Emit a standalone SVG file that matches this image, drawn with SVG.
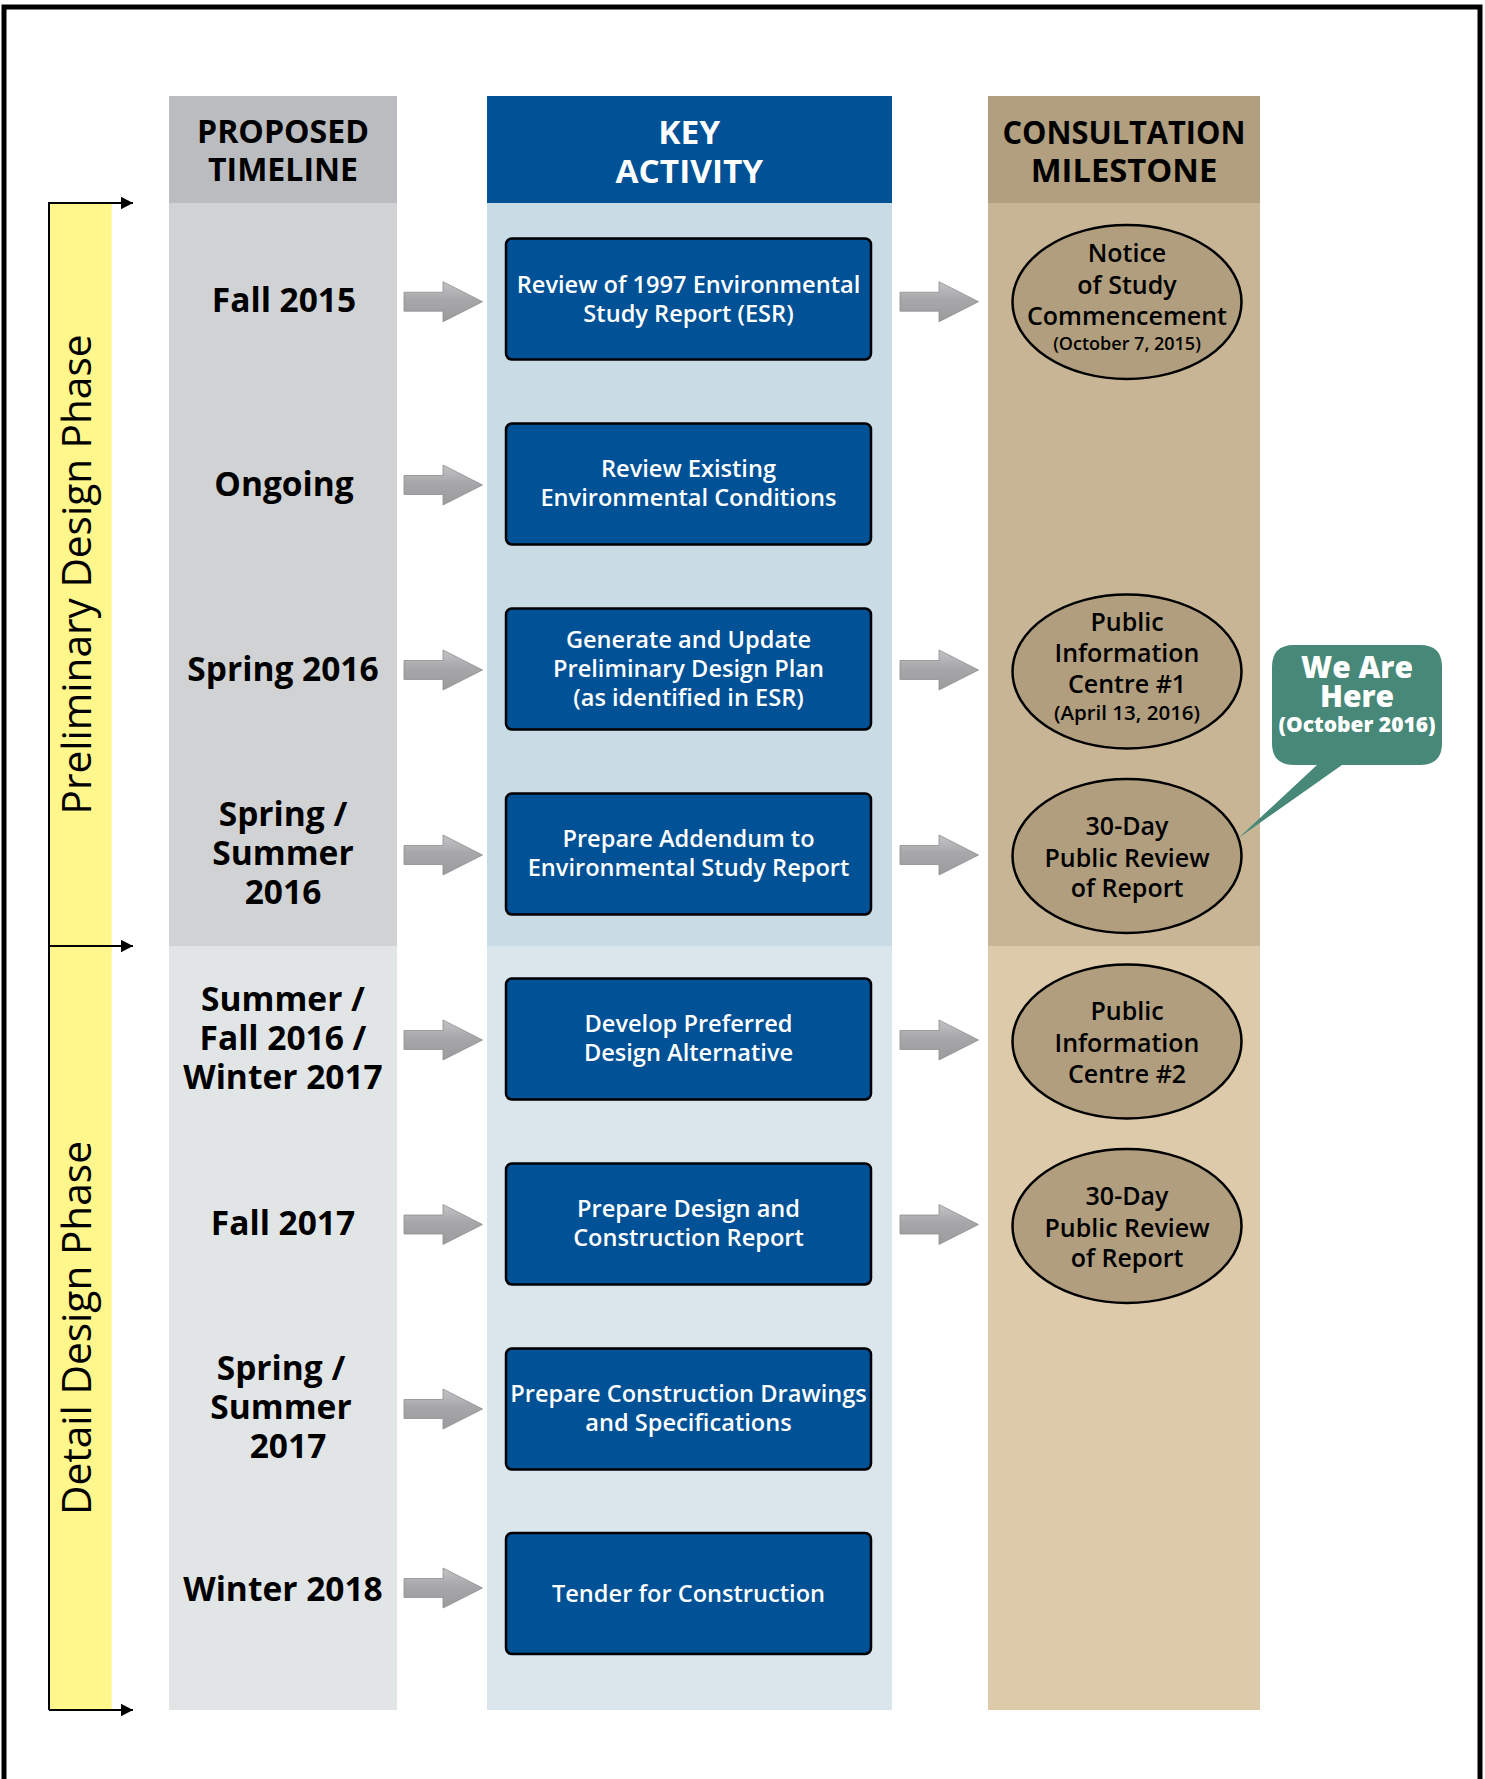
<svg xmlns="http://www.w3.org/2000/svg" width="1485" height="1779" viewBox="0 0 1485 1779">
<defs>
<style>
text{font-family:"Open Sans","Noto Sans","Liberation Sans",sans-serif}
.hdr{font-weight:700;font-size:32px;text-anchor:middle}
.tl{font-weight:700;font-size:33.5px;text-anchor:middle;fill:#000}
.act{font-weight:600;font-size:23.6px;fill:#fff;text-anchor:middle}
.ms{font-weight:600;font-size:25px;fill:#000;text-anchor:middle}
.box{fill:#005195;stroke:#000;stroke-width:2.5}
.ell{fill:#B09E7E;stroke:#000;stroke-width:2.5}
.garr{fill:url(#gg);stroke:#8e8e90;stroke-width:0.8}
.phase{font-weight:400;font-size:40px;fill:#000;text-anchor:middle}
.pl{fill:none;stroke:#000;stroke-width:2}
.we{font-weight:800;fill:#fff;text-anchor:middle}
</style>
<linearGradient id="gg" x1="0" y1="0" x2="0" y2="1">
<stop offset="0" stop-color="#c4c4c6"/>
<stop offset="0.45" stop-color="#a7a7a9"/>
<stop offset="1" stop-color="#9b9b9d"/>
</linearGradient>
<marker id="ah" markerUnits="userSpaceOnUse" markerWidth="14" markerHeight="14" refX="12.5" refY="6.5" orient="auto">
<path d="M0,0 L12.5,6.5 L0,13 Z" fill="#000"/>
</marker>
<path id="garrow" class="garr" d="M0,-9.5 H39 V-20 L78.5,0 L39,20 V9.5 H0 Z"/>
</defs>

<rect x="0" y="0" width="1485" height="1779" fill="#fff"/>
<path d="M4,1779 V7 H1480 V1779" fill="none" stroke="#000" stroke-width="5"/>

<!-- columns -->
<g id="col-timeline">
<rect x="169" y="203" width="228" height="743" fill="#D1D2D4"/>
<rect x="169" y="946" width="228" height="764" fill="#E2E5E6"/>
<rect x="169" y="96" width="228" height="107" fill="#BBBCBF"/>
<text class="hdr" x="283" y="142.5" textLength="172" lengthAdjust="spacingAndGlyphs">PROPOSED</text>
<text class="hdr" x="283" y="181" textLength="150" lengthAdjust="spacingAndGlyphs">TIMELINE</text>
</g>
<g id="col-activity">
<rect x="487" y="203" width="405" height="743" fill="#C9DBE5"/>
<rect x="487" y="946" width="405" height="764" fill="#DAE6EC"/>
<rect x="487" y="96" width="405" height="107" fill="#005195"/>
<text class="hdr" x="689.3" y="144.3" fill="#fff" textLength="62" lengthAdjust="spacingAndGlyphs">KEY</text>
<text class="hdr" x="689.3" y="182.7" fill="#fff" textLength="147.6" lengthAdjust="spacingAndGlyphs">ACTIVITY</text>
</g>
<g id="col-milestone">
<rect x="988" y="203" width="272" height="743" fill="#C7B596"/>
<rect x="988" y="946" width="272" height="764" fill="#DDCAAA"/>
<rect x="988" y="96" width="272" height="107" fill="#B19F7F"/>
<text class="hdr" x="1124" y="144" textLength="243" lengthAdjust="spacingAndGlyphs">CONSULTATION</text>
<text class="hdr" x="1124" y="181.7" textLength="186.6" lengthAdjust="spacingAndGlyphs">MILESTONE</text>
</g>

<!-- phases -->
<g id="phase-preliminary">
<rect x="49" y="203" width="62.7" height="743" fill="#FFF68C"/>
<text class="phase" transform="translate(90.5,574.5) rotate(-90)" textLength="480" lengthAdjust="spacingAndGlyphs">Preliminary Design Phase</text>
</g>
<g id="phase-detail">
<rect x="49" y="946" width="62.7" height="764" fill="#FFF68C"/>
<text class="phase" transform="translate(90.5,1328) rotate(-90)" textLength="374" lengthAdjust="spacingAndGlyphs">Detail Design Phase</text>
</g>

<!-- timeline labels -->
<g id="t1"><text class="tl" x="284" y="312">Fall 2015</text></g>
<g id="t2"><text class="tl" x="284" y="496">Ongoing</text></g>
<g id="t3"><text class="tl" x="283" y="681">Spring 2016</text></g>
<g id="t4"><text class="tl" x="283" y="826">Spring /</text><text class="tl" x="283" y="865">Summer</text><text class="tl" x="283" y="904">2016</text></g>
<g id="t5"><text class="tl" x="283" y="1011">Summer /</text><text class="tl" x="283" y="1050">Fall 2016 /</text><text class="tl" x="283" y="1089">Winter 2017</text></g>
<g id="t6"><text class="tl" x="283" y="1235">Fall 2017</text></g>
<g id="t7"><text class="tl" x="281" y="1380">Spring /</text><text class="tl" x="281" y="1419">Summer</text><text class="tl" x="288" y="1458">2017</text></g>
<g id="t8"><text class="tl" x="283" y="1601">Winter 2018</text></g>

<!-- activities -->
<g id="a1"><rect class="box" x="506" y="238.5" width="365" height="121" rx="6"/>
<text class="act" x="688.5" y="292.5">Review of 1997 Environmental</text><text class="act" x="688.5" y="322">Study Report (ESR)</text></g>
<g id="a2"><rect class="box" x="506" y="423.5" width="365" height="121" rx="6"/>
<text class="act" x="688.5" y="477.3">Review Existing</text><text class="act" x="688.5" y="506.3">Environmental Conditions</text></g>
<g id="a3"><rect class="box" x="506" y="608.5" width="365" height="121" rx="6"/>
<text class="act" x="688.5" y="648">Generate and Update</text><text class="act" x="688.5" y="677">Preliminary Design Plan</text><text class="act" x="688.5" y="705.5">(as identified in ESR)</text></g>
<g id="a4"><rect class="box" x="506" y="793.5" width="365" height="121" rx="6"/>
<text class="act" x="688.5" y="847.3">Prepare Addendum to</text><text class="act" x="688.5" y="876">Environmental Study Report</text></g>
<g id="a5"><rect class="box" x="506" y="978.5" width="365" height="121" rx="6"/>
<text class="act" x="688.5" y="1032">Develop Preferred</text><text class="act" x="688.5" y="1061">Design Alternative</text></g>
<g id="a6"><rect class="box" x="506" y="1163.5" width="365" height="121" rx="6"/>
<text class="act" x="688.5" y="1217">Prepare Design and</text><text class="act" x="688.5" y="1246">Construction Report</text></g>
<g id="a7"><rect class="box" x="506" y="1348.5" width="365" height="121" rx="6"/>
<text class="act" x="688.5" y="1402">Prepare Construction Drawings</text><text class="act" x="688.5" y="1431">and Specifications</text></g>
<g id="a8"><rect class="box" x="506" y="1533" width="365" height="121" rx="6"/>
<text class="act" x="688.5" y="1601.5">Tender for Construction</text></g>

<!-- milestones -->
<g id="m1"><ellipse class="ell" cx="1127" cy="302" rx="114.5" ry="77"/>
<text class="ms" x="1127" y="262">Notice</text><text class="ms" x="1127" y="293.5">of Study</text><text class="ms" x="1127" y="325">Commencement</text><text class="ms" x="1127" y="349.5" style="font-size:18px">(October 7, 2015)</text></g>
<g id="m2"><ellipse class="ell" cx="1127" cy="671.5" rx="114.5" ry="77"/>
<text class="ms" x="1127" y="630.7">Public</text><text class="ms" x="1127" y="662.3">Information</text><text class="ms" x="1127" y="693.3">Centre #1</text><text class="ms" x="1127" y="720" style="font-size:20.5px">(April 13, 2016)</text></g>
<g id="m3"><ellipse class="ell" cx="1127" cy="856" rx="114.5" ry="77"/>
<text class="ms" x="1127" y="835">30-Day</text><text class="ms" x="1127" y="866.7">Public Review</text><text class="ms" x="1127" y="897.3">of Report</text></g>
<g id="m4"><ellipse class="ell" cx="1127" cy="1041.5" rx="114.5" ry="77"/>
<text class="ms" x="1127" y="1020">Public</text><text class="ms" x="1127" y="1051.5">Information</text><text class="ms" x="1127" y="1083">Centre #2</text></g>
<g id="m5"><ellipse class="ell" cx="1127" cy="1226" rx="114.5" ry="77"/>
<text class="ms" x="1127" y="1205">30-Day</text><text class="ms" x="1127" y="1236.7">Public Review</text><text class="ms" x="1127" y="1267.3">of Report</text></g>

<!-- callout -->
<g id="callout">
<path d="M1294,645 H1420 Q1442,645 1442,667 V743 Q1442,765 1420,765 H1342 L1238.5,838 L1317,765 H1294 Q1272,765 1272,743 V667 Q1272,645 1294,645 Z" fill="#478878"/>
<text class="we" x="1357" y="677.7" style="font-size:30px">We Are</text>
<text class="we" x="1357" y="706.7" style="font-size:30px">Here</text>
<text class="we" x="1357" y="731.7" style="font-size:21px">(October 2016)</text>
</g>

<!-- connectors -->
<g id="connectors">
<path class="pl" d="M49,202 V1710"/>
<path class="pl" d="M49,203 H133" marker-end="url(#ah)"/>
<path class="pl" d="M49,946 H133" marker-end="url(#ah)"/>
<path class="pl" d="M49,1710 H133" marker-end="url(#ah)"/>
<use href="#garrow" x="404" y="301.7"/>
<use href="#garrow" x="404" y="485"/>
<use href="#garrow" x="404" y="670"/>
<use href="#garrow" x="404" y="855"/>
<use href="#garrow" x="404" y="1040"/>
<use href="#garrow" x="404" y="1224.5"/>
<use href="#garrow" x="404" y="1409"/>
<use href="#garrow" x="404" y="1588"/>
<use href="#garrow" x="900" y="301.7"/>
<use href="#garrow" x="900" y="670"/>
<use href="#garrow" x="900" y="855"/>
<use href="#garrow" x="900" y="1040"/>
<use href="#garrow" x="900" y="1224.5"/>
</g>
</svg>
